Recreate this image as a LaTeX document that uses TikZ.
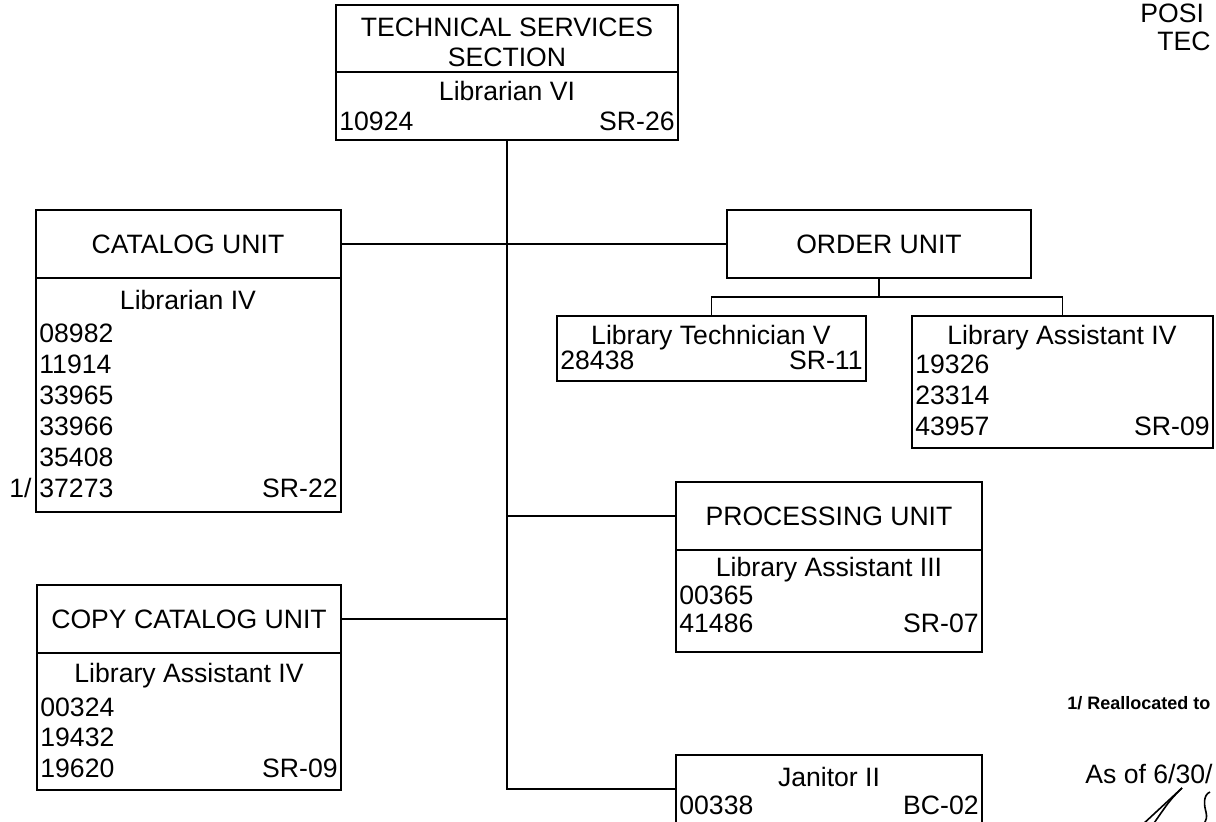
\documentclass[tikz,border=0pt]{standalone}
\usepackage{fontspec}
\setmainfont{Liberation Sans}
\usetikzlibrary{fit}
\tikzset{
  x=0.5pt, y=-0.5pt,
  unitbox/.style={draw, line width=0.7pt, inner sep=0pt},
  link/.style={line width=0.7pt},
  lbl/.style={inner sep=0pt, font=\fontsize{13.3}{15}\selectfont, anchor=base, yshift=-4.7pt},
  lblL/.style={lbl, anchor=base west},
  lblR/.style={lbl, anchor=base east},
  note/.style={inner sep=0pt, anchor=base west, yshift=-4.5pt},
}
\begin{document}
\begin{tikzpicture}
\useasboundingbox (0,0) rectangle (1216,822);
\clip (0,0) rectangle (1216,822);
\fill[white] (0,0) rectangle (1216,822);

% section head
\node[unitbox, fit={(336,5) (678,72)}] (tophead) {};
\node[unitbox, fit={(336,72) (678,140)}] (top) {};
\node[lbl] (t1) at (507,27) {TECHNICAL SERVICES};
\node[lbl] (t2) at (507,57) {SECTION};
\node[lbl] (t3) at (507,91) {Librarian VI};
\node[lblL] (t4) at (339,121) {10924};
\node[lblR] (t5) at (675,121) {SR-26};

% catalog unit
\node[unitbox, fit={(36,210) (341,278)}] (cathead) {};
\node[unitbox, fit={(36,278) (341,512)}] (cat) {};
\node[lbl] (c0) at (188,244) {CATALOG UNIT};
\node[lbl] (c1) at (188,300) {Librarian IV};
\node[lblL] (c2) at (39,333) {08982};
\node[lblL] (c3) at (39,364) {11914};
\node[lblL] (c4) at (39,395) {33965};
\node[lblL] (c5) at (39,426) {33966};
\node[lblL] (c6) at (39,457) {35408};
\node[lblL] (c7) at (39,488) {37273};
\node[lblR] (c8) at (338,488) {SR-22};
\node[lblR] (c9) at (32,488) {1/};

% order unit
\node[unitbox, fit={(727,210) (1031,278)}] (order) {};
\node[lbl] (o0) at (879,244) {ORDER UNIT};

\node[unitbox, fit={(557,316) (866,381)}] (tech) {};
\node[lbl] (k1) at (711,335) {Library Technician V};
\node[lblL] (k2) at (560,360) {28438};
\node[lblR] (k3) at (863,360) {SR-11};

\node[unitbox, fit={(912,316) (1213,448)}] (asst) {};
\node[lbl] (a1) at (1062,335) {Library Assistant IV};
\node[lblL] (a2) at (915,364) {19326};
\node[lblL] (a3) at (915,395) {23314};
\node[lblL] (a4) at (915,426) {43957};
\node[lblR] (a5) at (1210,426) {SR-09};

% processing unit
\node[unitbox, fit={(676,482) (982,550)}] (prochead) {};
\node[unitbox, fit={(676,550) (982,652)}] (proc) {};
\node[lbl] (p0) at (829,516) {PROCESSING UNIT};
\node[lbl] (p1) at (829,567) {Library Assistant III};
\node[lblL] (p2) at (679,595) {00365};
\node[lblL] (p3) at (679,623) {41486};
\node[lblR] (p4) at (979,623) {SR-07};

% copy catalog unit
\node[unitbox, fit={(37,585) (341,653)}] (copyhead) {};
\node[unitbox, fit={(37,653) (341,790)}] (copy) {};
\node[lbl] (y0) at (189,619) {COPY CATALOG UNIT};
\node[lbl] (y1) at (189,673) {Library Assistant IV};
\node[lblL] (y2) at (40,707) {00324};
\node[lblL] (y3) at (40,737) {19432};
\node[lblL] (y4) at (40,768) {19620};
\node[lblR] (y5) at (338,768) {SR-09};

% janitor
\node[unitbox, fit={(676,755) (982,823)}] (jan) {};
\node[lbl] (j1) at (829,777) {Janitor II};
\node[lblL] (j2) at (679,805) {00338};
\node[lblR] (j3) at (979,805) {BC-02};

% connectors
\coordinate (bus) at (879,297);
\draw[link] (top.south) |- (jan.west);
\draw[link] (cathead.east) -- (order.west);
\draw[link] (top.south |- prochead.west) -- (prochead.west);
\draw[link] (copyhead.east) -- (copyhead.east -| top.south);
\draw[link] (order.south) -- (bus);
\draw[link] (tech.north) |- (bus) -| (asst.north);

% side notes
\node[note, font=\fontsize{13.3}{15}\selectfont] (h1) at (1140,14) {POSI};
\node[note, font=\fontsize{13.3}{15}\selectfont] (h2) at (1157,42) {TEC};
\node[note, font=\bfseries\fontsize{9}{11}\selectfont, yshift=1.3pt] (n1) at (1067,703) {1/ Reallocated to};
\node[note, font=\fontsize{13.3}{15}\selectfont] (n2) at (1085,775) {As of 6/30/};

% signature strokes
\draw[line width=0.8pt] (1182,788) -- (1141,826);
\draw[line width=0.8pt] (1182,788) .. controls (1170,800) .. (1152,826);
\draw[line width=0.8pt] (1210,792) .. controls (1203,795) and (1204,805) .. (1206,812) .. controls (1207,818) .. (1203,826);
\end{tikzpicture}
\end{document}
